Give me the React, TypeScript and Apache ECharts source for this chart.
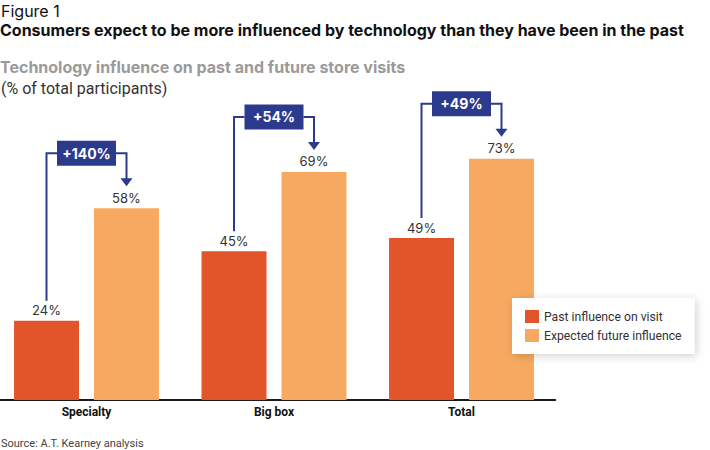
import React, { useEffect, useRef } from "react";
import * as echarts from "echarts";

const categories = ["Specialty", "Big box", "Total"];
const pastValues = [24, 45, 49];
const futureValues = [58, 69, 73];
const changeLabels = ["+140%", "+54%", "+49%"];
const seriesNames = ["Past influence on visit", "Expected future influence"];

const figureLabel = "Figure 1";
const mainTitle = "Consumers expect to be more influenced by technology than they have been in the past";
const chartTitle = "Technology influence on past and future store visits";
const unitNote = "(% of total participants)";
const sourceNote = "Source: A.T. Kearney analysis";

const PAST_COLOR = "#e2552a";
const FUTURE_COLOR = "#f7a961";
const NAVY = "#2c3a8e";
const FONT = "Inter, 'Noto Sans', sans-serif";
const FONT_N = "Roboto, 'Noto Sans', sans-serif";

export default function App() {
  const ref = useRef<HTMLDivElement>(null);

  useEffect(() => {
    document.body.style.margin = "0";
    if (!ref.current) return;
    const chart = echarts.init(ref.current, null, { renderer: "svg" });

    const annotationData = categories.map((_, i) => [i, pastValues[i], futureValues[i]]);

    const option: any = {
      animation: false,
      textStyle: { fontFamily: FONT },
      grid: {
        left: -7.25,
        width: 562.5,
        top: 69.5,
        bottom: 50,
        containLabel: false,
        outerBoundsMode: "none",
      },
      xAxis: {
        type: "category",
        data: categories,
        axisLine: { show: true, lineStyle: { color: "#1a1a1a", width: 2 } },
        axisTick: { show: false },
        axisLabel: {
          fontFamily: FONT_N,
          fontWeight: "bold",
          fontSize: 12,
          color: "#111",
          margin: 6,
        },
      },
      yAxis: {
        type: "value",
        min: 0,
        max: 100,
        show: false,
        splitLine: { show: false },
      },
      legend: {
        data: seriesNames,
        orient: "vertical",
        left: 512,
        top: 298,
        padding: [12, 13, 12, 13],
        itemWidth: 14,
        itemHeight: 13,
        itemGap: 6,
        icon: "rect",
        backgroundColor: "#ffffff",
        shadowBlur: 8,
        shadowColor: "rgba(0,0,0,0.18)",
        shadowOffsetX: 2,
        shadowOffsetY: 2,
        textStyle: { fontFamily: FONT_N, fontSize: 12.2, color: "#333" },
      },
      graphic: [
        {
          type: "text",
          left: 1,
          top: 3,
          style: { text: figureLabel, fontFamily: FONT, fontSize: 16, fill: "#111" },
        },
        {
          type: "text",
          left: 0,
          top: 22,
          style: { text: mainTitle, fontFamily: FONT, fontSize: 16, fontWeight: "bold", fill: "#111" },
        },
        {
          type: "text",
          left: 0,
          top: 59,
          style: { text: chartTitle, fontFamily: FONT, fontSize: 16, fontWeight: "bold", fill: "#9a9a9a" },
        },
        {
          type: "text",
          left: 1,
          top: 80,
          style: { text: unitNote, fontFamily: FONT_N, fontSize: 16, fill: "#333" },
        },
        {
          type: "text",
          left: 1,
          top: 438,
          style: { text: sourceNote, fontFamily: FONT_N, fontSize: 11, fill: "#444" },
        },
      ],
      series: [
        {
          name: seriesNames[0],
          type: "bar",
          data: pastValues,
          barWidth: 65,
          barGap: "23%",
          itemStyle: { color: PAST_COLOR },
          label: {
            show: true,
            position: "top",
            distance: 4,
            formatter: "{c}%",
            fontFamily: FONT,
            fontSize: 13,
            color: "#333",
          },
        },
        {
          name: seriesNames[1],
          type: "bar",
          data: futureValues,
          barWidth: 65,
          barGap: "23%",
          itemStyle: { color: FUTURE_COLOR },
          label: {
            show: true,
            position: "top",
            distance: 4,
            formatter: "{c}%",
            fontFamily: FONT,
            fontSize: 13,
            color: "#333",
          },
        },
        {
          type: "custom",
          name: "change",
          data: annotationData,
          encode: { x: 0, y: [1, 2] },
          z: 5,
          silent: true,
          renderItem: (params: any, api: any) => {
            const idx = api.value(0);
            const past = api.value(1);
            const future = api.value(2);
            const cx = api.coord([idx, 0])[0];
            const pastTop = api.coord([idx, past])[1];
            const futTop = api.coord([idx, future])[1];
            const xL = cx - 40;
            const xR = cx + 40;
            const mid = futTop - 55;
            const boxW = 59;
            const boxH = 25;
            const leftBottom = pastTop - 20;
            const tip = futTop - 22;
            const lineStyle = { stroke: NAVY, lineWidth: 2, fill: null };
            return {
              type: "group",
              children: [
                {
                  type: "polyline",
                  shape: { points: [[xL, leftBottom], [xL, mid], [cx - boxW / 2, mid]] },
                  style: lineStyle,
                },
                {
                  type: "polyline",
                  shape: { points: [[cx + boxW / 2, mid], [xR, mid], [xR, tip - 7]] },
                  style: lineStyle,
                },
                {
                  type: "polygon",
                  shape: { points: [[xR - 6, tip - 8], [xR + 6, tip - 8], [xR, tip]] },
                  style: { fill: NAVY },
                },
                {
                  type: "rect",
                  shape: { x: cx - boxW / 2, y: mid - boxH / 2, width: boxW, height: boxH },
                  style: { fill: NAVY },
                },
                {
                  type: "text",
                  x: cx,
                  y: mid,
                  style: {
                    text: changeLabels[params.dataIndex],
                    fontFamily: FONT,
                    fontSize: 14,
                    fontWeight: "bold",
                    fill: "#ffffff",
                    align: "center",
                    verticalAlign: "middle",
                  },
                },
              ],
            };
          },
        },
      ],
    };

    chart.setOption(option);
    return () => chart.dispose();
  }, []);

  return <div ref={ref} style={{ width: 710, height: 450 }} />;
}
